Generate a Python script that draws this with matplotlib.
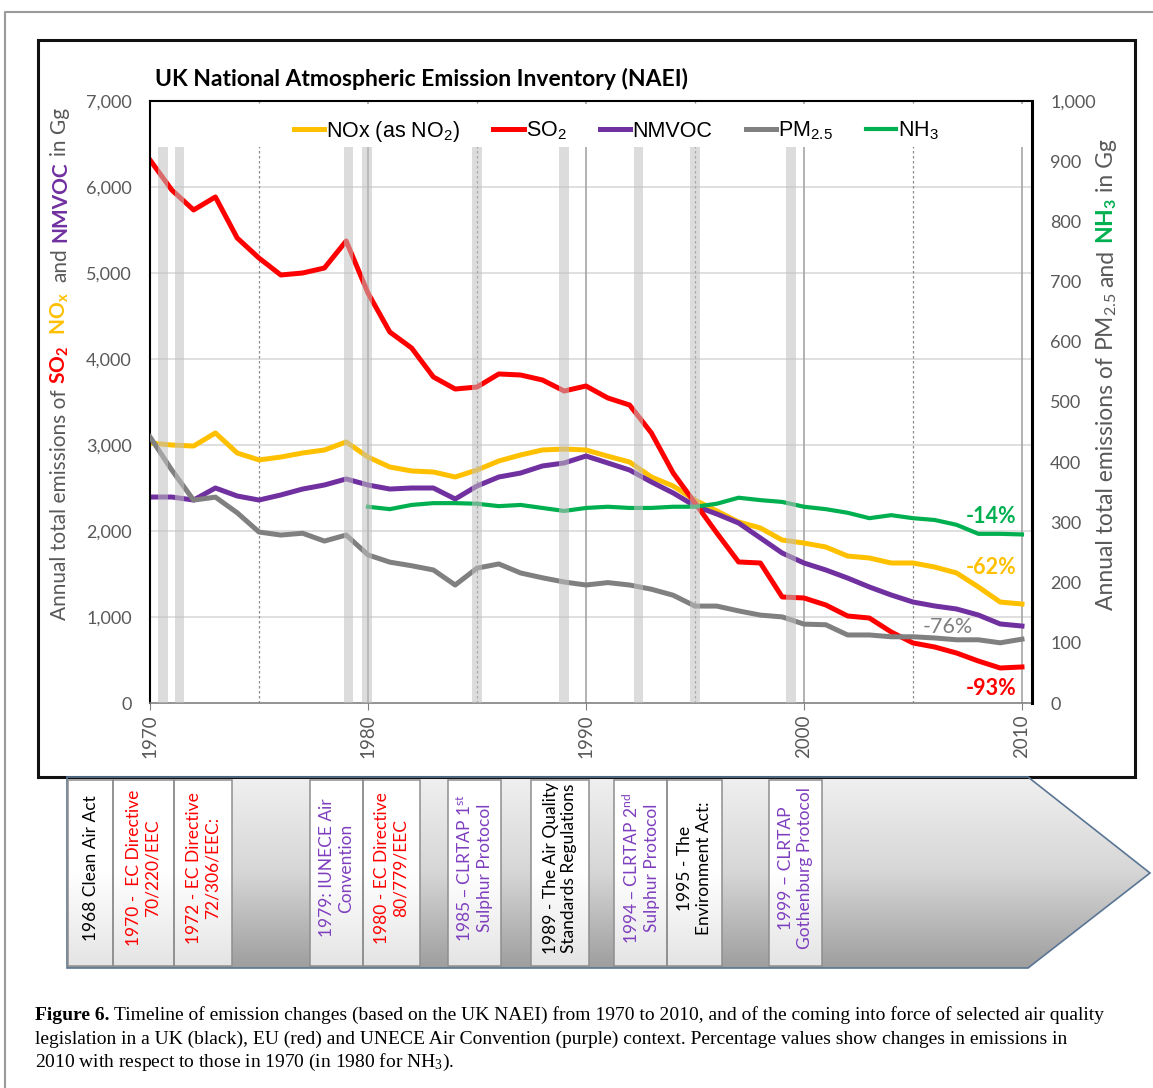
import numpy as np
import matplotlib
matplotlib.use("Agg")
import matplotlib.pyplot as plt
from matplotlib.patches import Rectangle, Polygon
from matplotlib.colors import LinearSegmentedColormap

plt.rcParams['font.family'] = ['Lato', 'DejaVu Sans']
plt.rcParams['mathtext.default'] = 'regular'

# ---- data (Gg) ----
years = list(range(1970, 2011))
so2 = [6314, 5965, 5733, 5884, 5407, 5174, 4977, 5000, 5058, 5372,
       4767, 4314, 4128, 3791, 3651, 3674, 3826, 3814, 3756, 3628,
       3686, 3547, 3465, 3140, 2674, 2326, 1977, 1640, 1628, 1233,
       1221, 1140, 1012, 988, 826, 698, 651, 581, 488, 407, 419]
nox = [3023, 3000, 2988, 3140, 2907, 2826, 2860, 2907, 2942, 3035,
       2860, 2744, 2698, 2686, 2628, 2709, 2814, 2884, 2942, 2953,
       2942, 2870, 2802, 2628, 2523, 2360, 2233, 2105, 2035, 1895,
       1860, 1814, 1709, 1686, 1628, 1628, 1581, 1512, 1349, 1174, 1151]
nmvoc = [2395, 2395, 2360, 2500, 2407, 2360, 2419, 2488, 2535, 2605,
         2535, 2488, 2500, 2500, 2372, 2523, 2628, 2674, 2756, 2791,
         2872, 2791, 2709, 2570, 2442, 2291, 2198, 2093, 1919, 1744,
         1628, 1547, 1453, 1349, 1256, 1174, 1128, 1093, 1023, 919, 895]
# right axis
pm25 = [442, 387, 337, 342, 316, 284, 279, 282, 269, 279,
        246, 234, 228, 221, 196, 224, 231, 216, 208, 201,
        196, 200, 196, 189, 179, 161, 161, 153, 146, 143,
        131, 130, 113, 113, 110, 110, 108, 105, 105, 100, 106]
nh3_years = list(range(1980, 2011))
nh3 = [326, 322, 329, 332, 332, 331, 327, 329, 324, 319,
       324, 326, 324, 324, 326, 326, 331, 341, 337, 334,
       326, 322, 316, 307, 312, 307, 304, 296, 281, 281, 280]

legend_names = ['NOx (as NO$_2$)', 'SO$_2$', 'NMVOC', 'PM$_{2.5}$', 'NH$_3$']
# years where legislation came into force (grey bands)
band_years = [1970.6, 1971.35, 1979.1, 1979.95, 1985.0, 1989.0, 1992.4, 1995.0, 1999.4]

c_nox, c_so2, c_voc, c_pm, c_nh3 = '#ffc000', '#ff0000', '#7030a0', '#808080', '#00b050'
black, red, purple = '#000000', '#ff0000', '#7f3fbf'

timeline_labels = ["1968 Clean Air Act",
                   "1970 -  EC Directive\n70/220/EEC",
                   "1972 - EC Directive\n72/306/EEC:",
                   "1979: IUNECE Air\nConvention",
                   "1980 - EC Directive\n80/779/EEC",
                   "1985 \u2013 CLRTAP 1$^{st}$\nSulphur Protocol",
                   "1989 - The Air Quality\nStandards Regulations",
                   "1994 \u2013 CLRTAP 2$^{nd}$\nSulphur Protocol",
                   "1995 - The\nEnvironment Act:",
                   "1999 \u2013 CLRTAP\nGothenburg Protocol"]
timeline_colors = [black, red, red, purple, red, purple, black, purple, black, purple]
box_edges = [(68, 113), (113, 174), (174, 232), (310, 363), (363, 420),
             (448, 501), (531, 589), (614, 667), (667, 722), (769, 822)]

W, H = 1153, 1088
fig = plt.figure(figsize=(W / 100, H / 100), dpi=100)
ov = fig.add_axes([0, 0, 1, 1])
ax = fig.add_axes([150 / W, 1 - 703 / H, 882 / W, 602 / H])
renderer = fig.canvas.get_renderer()

# ---- main chart ----
ax.set_xlim(1970, 2010.46)
ax.set_ylim(0, 7000)
for v in range(1000, 7000, 1000):
    ax.axhline(v, color='#d9d9d9', lw=1.2, zorder=1)
for yr in (1980, 1990, 2000, 2010):
    ax.axvline(yr, color='#a6a6a6', lw=1.2, zorder=1)
for yr in (1975, 1985, 1995, 2005):
    ax.axvline(yr, color='#8c8c8c', lw=0.9, ls=(0, (2, 2)), zorder=1)
# white strip behind the legend
ax.add_patch(Rectangle((0, (703 - 147) / 602), 1, 43 / 602, transform=ax.transAxes,
                       fc='white', ec='none', zorder=1.5))

lw = 3.6
l_nox, = ax.plot(years, nox, color=c_nox, lw=lw, zorder=2, solid_joinstyle='round')
l_voc, = ax.plot(years, nmvoc, color=c_voc, lw=lw, zorder=2, solid_joinstyle='round')
l_so2, = ax.plot(years, so2, color=c_so2, lw=lw, zorder=2.1, solid_joinstyle='round')

ax2 = ax.twinx()
ax2.set_ylim(0, 1000)
l_pm, = ax2.plot(years, pm25, color=c_pm, lw=lw, zorder=2, solid_joinstyle='round')
l_nh3, = ax2.plot(nh3_years, nh3, color=c_nh3, lw=3.0, zorder=2, solid_joinstyle='round')

for b in band_years:
    ax2.axvspan(b - 0.22, b + 0.22, ymin=0, ymax=(703 - 147) / 602,
                color='#c0c0c0', alpha=0.55, lw=0, zorder=5)

def pct(v):
    return f"{round((v[-1] / v[0] - 1) * 100):d}%"

ax2.text(2008.6, 2174, pct(nh3), transform=ax.transData, color=c_nh3, fontsize=15.5,
         fontweight='bold', ha='center', va='center', zorder=6)
ax2.text(2008.6, 1581, pct(nox), transform=ax.transData, color=c_nox, fontsize=15.5,
         fontweight='bold', ha='center', va='center', zorder=6)
ax2.text(2006.6, 884, pct(pm25), transform=ax.transData, color=c_pm, fontsize=15.5,
         ha='center', va='center', zorder=6)
ax2.text(2008.6, 174, pct(so2), transform=ax.transData, color=c_so2, fontsize=15.5,
         fontweight='bold', ha='center', va='center', zorder=6)

ax2.legend([l_nox, l_so2, l_voc, l_pm, l_nh3], legend_names, loc='center left',
           bbox_to_anchor=(0.163, 0.95), ncol=5, frameon=False, handlelength=1.4,
           handletextpad=0.1, columnspacing=1.55, borderaxespad=0, borderpad=0,
           prop={'family': 'Liberation Sans', 'size': 15.5})

ax.set_xticks(range(1970, 2011, 10))
ax.set_xticklabels([str(y) for y in range(1970, 2011, 10)], rotation=90)
ax.tick_params(axis='x', length=5, color='#808080', labelsize=13.5, labelcolor='#595959', pad=3)
ax.set_yticks(range(0, 7001, 1000))
ax.set_yticklabels([f"{v:,}" for v in range(0, 7001, 1000)])
ax.tick_params(axis='y', length=0, pad=13, labelsize=13, labelcolor='#595959')
ax2.set_yticks(range(0, 1001, 100))
ax2.set_yticklabels([f"{v:,}" for v in range(0, 1001, 100)])
ax2.tick_params(axis='y', length=0, pad=13, labelsize=13, labelcolor='#595959')

for s in ('left', 'top'):
    ax.spines[s].set_color('k')
    ax.spines[s].set_linewidth(1.5)
ax.spines['right'].set_visible(False)
ax.spines['bottom'].set_color('#808080')
ax.spines['bottom'].set_linewidth(1.2)
for s in ('left', 'top', 'bottom'):
    ax2.spines[s].set_visible(False)
ax2.spines['right'].set_color('k')
ax2.spines['right'].set_linewidth(2.2)

# ---- page furniture (pixel coordinates) ----
grad = np.linspace(0, 1, 256)[:, None]
cmap = LinearSegmentedColormap.from_list('arrow', ['#f0f0f0', '#d6d6d6', '#9e9e9e'])
arrow = Polygon([(67, 777), (1028, 777), (1150, 873), (1028, 968), (67, 968)],
                closed=True, fc='none', ec='#5a7594', lw=1.2, zorder=2)
im = ov.imshow(grad, cmap=cmap, extent=(67, 1150, 968, 777), aspect='auto', zorder=1)
ov.add_patch(arrow)
im.set_clip_path(arrow)

box_cmap = LinearSegmentedColormap.from_list('box', ['#ffffff', '#ffffff', '#e4e4e4'])
for (x0, x1), lab, col in zip(box_edges, timeline_labels, timeline_colors):
    box = Rectangle((x0, 780), x1 - x0, 186, fc='none', ec='#8e8e8e', lw=1.1, zorder=3.5)
    bim = ov.imshow(grad, cmap=box_cmap, extent=(x0, x1, 966, 780), aspect='auto', zorder=3)
    ov.add_patch(box)
    bim.set_clip_path(box)
    ov.text((x0 + x1) / 2, 868, lab, rotation=90, ha='center', va='center',
            multialignment='center', color=col, fontsize=12.5, linespacing=1.22, zorder=4)

ov.add_patch(Rectangle((38, 40), 1097, 737, fc='none', ec='#111111', lw=2.2, zorder=1.5))
ov.plot([5, 5, W], [H, 12, 12], color='#9a9a9a', lw=1.5)

ov.set_xlim(0, W)
ov.set_ylim(H, 0)
ov.axis('off')

ov.text(155, 86, "UK National Atmospheric Emission Inventory (NAEI)", fontsize=16.5,
        fontweight='bold', va='baseline')


def text_width(s, **kw):
    t = ov.text(0, 0, s, **kw)
    w = t.get_window_extent(renderer).width
    t.remove()
    return w


def write_runs(x, y, runs, vertical=False, **kw):
    sp = text_width('x x', **kw) - text_width('xx', **kw)
    for s, color, weight in runs:
        lead = len(s) - len(s.lstrip(' '))
        trail = len(s) - len(s.rstrip(' '))
        core = s.strip(' ')
        if vertical:
            y -= lead * sp
        else:
            x += lead * sp
        ov.text(x, y, core, color=color, fontweight=weight, rotation=90 if vertical else 0,
                rotation_mode='anchor', ha='left', va='baseline', **kw)
        w = text_width(core, fontweight=weight, **kw) + trail * sp
        if vertical:
            y -= w
        else:
            x += w


grey = '#595959'
write_runs(66, 620, [("Annual total emissions of ", grey, 'normal'),
                     ("SO$_2$", c_so2, 'bold'), ("  NO$_x$", c_nox, 'bold'),
                     ("  and ", grey, 'normal'), ("NMVOC", c_voc, 'bold'),
                     (" in Gg", grey, 'normal')], vertical=True, fontsize=15)
write_runs(1113, 610, [("Annual total emissions of ", grey, 'normal'),
                       ("PM$_{2.5}$", grey, 'normal'), (" and ", grey, 'normal'),
                       ("NH$_3$", c_nh3, 'bold'), (" in Gg", grey, 'normal')],
           vertical=True, fontsize=16.5)

cap = dict(family='Liberation Serif', fontsize=14)
write_runs(35, 1020, [("Figure 6.", 'k', 'bold'),
                      (" Timeline of emission changes (based on the UK NAEI) from 1970 to 2010, "
                       "and of the coming into force of selected air quality", 'k', 'normal')], **cap)
write_runs(35, 1044, [("legislation in a UK (black), EU (red) and UNECE Air Convention (purple) "
                       "context. Percentage values show changes in emissions in", 'k', 'normal')], **cap)
write_runs(35, 1067, [("2010 with respect to those in 1970 (in 1980 for NH$_3$).", 'k', 'normal')], **cap)

fig.savefig('out.png', dpi=100)
